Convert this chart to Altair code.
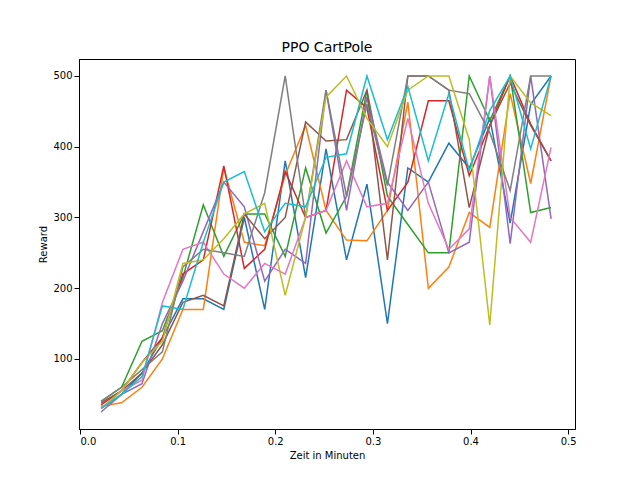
import altair as alt
import pandas as pd

x_vals = [round(0.0216 + 0.02095 * i, 4) for i in range(23)]

series = {
    "0": [30, 50, 80, 130, 185, 185, 170, 300, 170, 380, 215, 397, 240, 347, 150, 370, 350, 405, 370, 440, 292, 460, 500],
    "1": [33, 38, 60, 100, 170, 170, 370, 265, 260, 360, 430, 310, 268, 267, 310, 463, 200, 230, 307, 286, 475, 348, 500],
    "2": [40, 60, 125, 140, 215, 318, 245, 305, 305, 245, 370, 278, 330, 480, 330, 290, 250, 250, 500, 437, 500, 307, 314],
    "3": [35, 55, 95, 130, 220, 240, 373, 228, 255, 365, 300, 310, 480, 455, 310, 350, 465, 465, 359, 430, 500, 432, 380],
    "4": [25, 50, 65, 150, 210, 280, 350, 315, 210, 255, 235, 480, 310, 470, 350, 310, 350, 250, 265, 500, 263, 500, 298],
    "5": [38, 55, 80, 120, 180, 190, 175, 305, 270, 300, 435, 408, 410, 480, 240, 500, 500, 480, 314, 430, 490, 430, 380],
    "6": [30, 55, 70, 180, 255, 265, 220, 200, 235, 220, 300, 310, 380, 315, 320, 440, 320, 255, 284, 500, 300, 265, 399],
    "7": [40, 60, 85, 110, 230, 255, 250, 245, 335, 500, 300, 480, 330, 460, 345, 500, 500, 480, 475, 420, 338, 500, 500],
    "8": [30, 55, 95, 125, 235, 240, 270, 305, 320, 190, 300, 470, 500, 440, 400, 480, 500, 500, 410, 148, 500, 462, 444],
    "9": [30, 50, 75, 175, 170, 265, 350, 365, 280, 320, 315, 385, 390, 500, 410, 485, 380, 475, 366, 451, 500, 397, 500],
}
colors = ["#1f77b4", "#ff7f0e", "#2ca02c", "#d62728", "#9467bd",
          "#8c564b", "#e377c2", "#7f7f7f", "#bcbd22", "#17becf"]

rows = []
for name, ys in series.items():
    for x, y in zip(x_vals, ys):
        rows.append({"run": name, "x": x, "y": y})
df = pd.DataFrame(rows)

chart = alt.Chart(df).mark_line(strokeWidth=1.5).encode(
    x=alt.X("x:Q", title="Zeit in Minuten",
            scale=alt.Scale(domain=[-0.001, 0.507], nice=False, zero=False),
            axis=alt.Axis(values=[0.0, 0.1, 0.2, 0.3, 0.4, 0.5], format=".1f", grid=False)),
    y=alt.Y("y:Q", title="Reward",
            scale=alt.Scale(domain=[1, 524], nice=False, zero=False),
            axis=alt.Axis(values=[100, 200, 300, 400, 500], grid=False)),
    color=alt.Color("run:N", scale=alt.Scale(domain=list(series.keys()), range=colors), legend=None),
).properties(
    title=alt.TitleParams("PPO CartPole", fontSize=14, fontWeight="normal"),
    width=496, height=370,
    padding={"left": 30, "top": 33, "right": 5, "bottom": 5}
).configure_axis(
    labelFont="DejaVu Sans", titleFont="DejaVu Sans", labelFontSize=10, titleFontSize=10,
    titleFontWeight="normal", domainColor="black", tickColor="black", labelColor="black"
).configure_title(font="DejaVu Sans").configure_view(stroke="black")

chart.save("out.html", embed_options={"renderer": "svg", "actions": False})
